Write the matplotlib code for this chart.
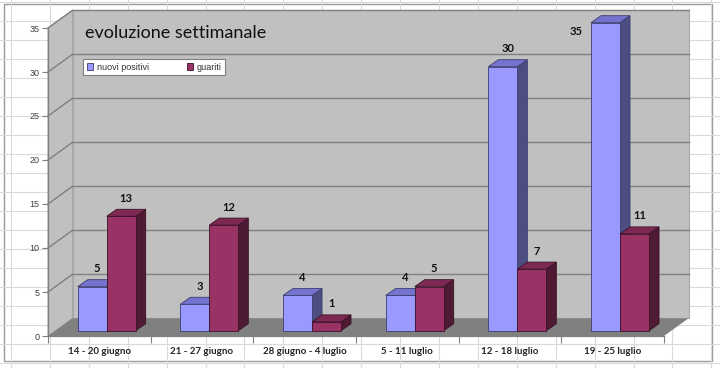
import matplotlib
matplotlib.use('Agg')
import matplotlib.pyplot as plt
from matplotlib.patches import Polygon, Rectangle
import numpy as np

categories = ['14 - 20 giugno', '21 - 27 giugno', '28 giugno - 4 luglio',
              '5 - 11 luglio', '12 - 18 luglio', '19 - 25 luglio']
nuovi_positivi = [5, 3, 4, 4, 30, 35]
guariti = [13, 12, 1, 5, 7, 11]
series_names = ['nuovi positivi', 'guariti']
y_ticks = [0, 5, 10, 15, 20, 25, 30, 35]
title = 'evoluzione settimanale'

W, H = 720, 368
fig = plt.figure(figsize=(7.2, 3.68), dpi=100)

# spreadsheet background
bg = fig.add_axes([0, 0, 1, 1], zorder=-5)
bg.set_xlim(0, W); bg.set_ylim(H, 0); bg.axis('off')
for x in np.arange(11.1, W, 38.9):
    bg.axvline(x, color='#DADADA', lw=0.8)
for y in np.arange(2.3, H, 19.0):
    bg.axhline(y, color='#DADADA', lw=0.8)
bg.add_patch(Rectangle((4, 4), 708, 357, facecolor='white', edgecolor='#9A9A9A', lw=1))

# main axes (front plane)
px0, px1 = 48, 664
py0, py1 = 336, 28
ax = fig.add_axes([px0 / W, 1 - py0 / H, (px1 - px0) / W, (py0 - py1) / H], zorder=1)
ax.patch.set_visible(False)
n = len(categories)
ymax = y_ticks[-1]
ax.set_xlim(-0.5, n - 0.5)
ax.set_ylim(0, ymax)

cat_px = (px1 - px0) / n
unit_px = (py0 - py1) / ymax
DX = 24.5 / cat_px
DY = 17.7 / unit_px

# walls and floor
ax.add_patch(Rectangle((-0.5 + DX, DY), n, ymax, facecolor='#C0C0C0', edgecolor='#A8A8A8',
                       lw=0.8, clip_on=False, zorder=0.1))
ax.add_patch(Polygon([(-0.5, 0), (-0.5 + DX, DY), (-0.5 + DX, ymax + DY), (-0.5, ymax)],
                     closed=True, facecolor='#C0C0C0', edgecolor='#A8A8A8', lw=0.8,
                     clip_on=False, zorder=0.1))
ax.add_patch(Polygon([(-0.5, 0), (n - 0.5, 0), (n - 0.5 + DX, DY), (-0.5 + DX, DY)],
                     closed=True, facecolor='#808080', edgecolor='none',
                     clip_on=False, zorder=0.2))
for k in y_ticks[1:]:
    ax.plot([-0.5 + DX, n - 0.5 + DX], [k + DY, k + DY], color='#808080', lw=1,
            clip_on=False, zorder=0.3)
    ax.plot([-0.5, -0.5 + DX], [k, k + DY], color='#808080', lw=1, clip_on=False, zorder=0.3)

# bars
bw = 0.2825
sx, sy = 0.3 * DX, 0.3 * DY
bdx, bdy = 10 / cat_px, 7 / unit_px
front_c = ['#9999FF', '#993366']
top_c = ['#7474CE', '#7C2A54']
side_c = ['#4D4D82', '#4E1A34']
edge_c = ['#3C3C70', '#3A1226']
xs = np.arange(n)

for s, vals in enumerate([nuovi_positivi, guariti]):
    lefts = xs - bw + s * bw + sx
    bars = ax.bar(lefts, vals, width=bw, bottom=sy, align='edge', color=front_c[s],
                  edgecolor=edge_c[s], lw=0.6, label=series_names[s], zorder=3 + 0.2 * s,
                  clip_on=False)
    for rect, v in zip(bars, vals):
        xl = rect.get_x()
        xr = xl + bw
        top = sy + v
        ax.add_patch(Polygon([(xr, sy), (xr + bdx, sy + bdy), (xr + bdx, top + bdy), (xr, top)],
                             closed=True, facecolor=side_c[s], edgecolor=edge_c[s], lw=0.6,
                             clip_on=False, zorder=2.9 + 0.2 * s))
        ax.add_patch(Polygon([(xl, top), (xr, top), (xr + bdx, top + bdy), (xl + bdx, top + bdy)],
                             closed=True, facecolor=top_c[s], edgecolor=edge_c[s], lw=0.6,
                             clip_on=False, zorder=2.9 + 0.2 * s))
        ly = top + bdy + 1.25
        if ly > ymax + DY - 0.3:
            ax.text(xl - 0.08, v - 0.4, str(v), ha='right', va='center', fontsize=8,
                    family='Lato', fontweight='bold', color='#111111', zorder=5)
        else:
            ax.text(xl + bw / 2 + bdx / 2, ly, str(v), ha='center', va='center', fontsize=8,
                    family='Lato', fontweight='bold', color='#111111', zorder=5)

# axes styling
for sp in ['top', 'right']:
    ax.spines[sp].set_visible(False)
for sp in ['left', 'bottom']:
    ax.spines[sp].set_color('#808080')
    ax.spines[sp].set_linewidth(0.9)
    ax.spines[sp].set_zorder(0.5)

ax.set_yticks(y_ticks)
ax.set_yticklabels([str(t) for t in y_ticks], fontsize=6.5, color='#404040',
                   family='Liberation Sans')
ax.tick_params(axis='y', length=4, color='#808080', width=0.8, pad=2)

ax.set_xticks(np.arange(-0.5, n, 1))
ax.set_xticklabels([''] * (n + 1))
ax.tick_params(axis='x', which='major', length=5, color='#808080', width=0.8)
ax.set_xticks(xs, minor=True)
ax.set_xticklabels(categories, minor=True, fontsize=7, family='Lato', fontweight='bold',
                   color='#222222')
ax.tick_params(axis='x', which='minor', length=0, pad=8)

fig.text(85 / W, 1 - 33 / H, title, fontsize=13, family='Lato', ha='left', va='center',
         color='#111111')

leg = ax.legend(loc='upper left', bbox_to_anchor=(83 / W, 1 - 59 / H),
                bbox_transform=fig.transFigure, ncol=2, frameon=True, fancybox=False,
                prop={'family': 'Liberation Sans', 'size': 6.5}, handlelength=0.7,
                handleheight=0.7, handletextpad=0.4, columnspacing=4.2, borderpad=0.4,
                borderaxespad=0)
leg.get_frame().set_edgecolor('#808080')
leg.get_frame().set_linewidth(0.8)
leg.get_frame().set_alpha(1)
leg.set_zorder(6)
for t in leg.get_texts():
    t.set_color('#333333')

fig.savefig('out.png', dpi=100)
